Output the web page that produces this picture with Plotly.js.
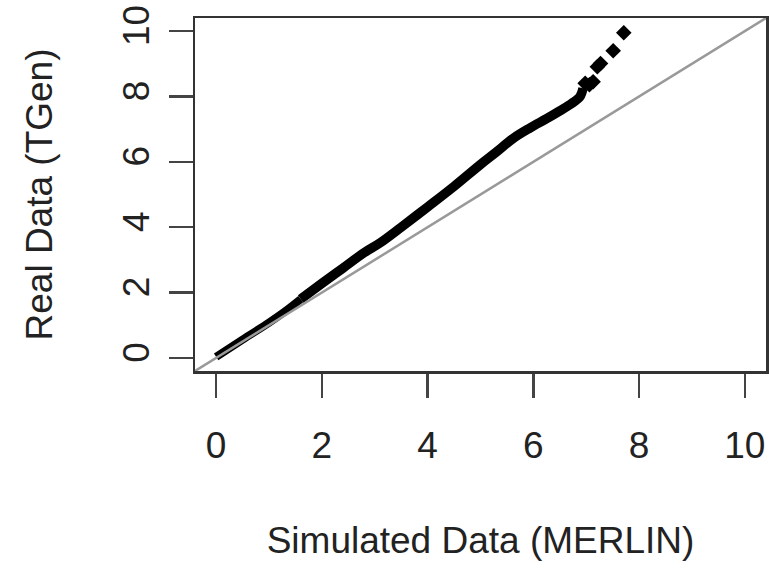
<!DOCTYPE html>
<html>
<head>
<meta charset="utf-8">
<script src="https://cdn.plot.ly/plotly-3.0.1.min.js"></script>
<style>
  html, body { margin: 0; padding: 0; background: #fff; }
  #chart { width: 769px; height: 570px; }
</style>
</head>
<body>
<div id="chart"></div>
<script>
// Dense part of the QQ curve (band of overlapping points)
const bandAX = [0.0, 0.5, 1.0, 1.3, 1.6];
const bandAY = [0.03, 0.56, 1.08, 1.42, 1.80];
const bandBX = [1.6, 2.0, 2.4, 2.8, 3.1, 3.5, 4.0, 4.5, 5.0, 5.3, 5.62, 5.94, 6.25, 6.5, 6.72, 6.88, 6.94];
const bandBY = [1.80, 2.28, 2.75, 3.22, 3.52, 4.0, 4.62, 5.25, 5.92, 6.3, 6.72, 7.04, 7.32, 7.56, 7.78, 7.99, 8.25];
// Sparse upper tail (individual diamonds)
const tailX = [6.98, 7.06, 7.13, 7.21, 7.27, 7.51, 7.71];
const tailY = [8.40, 8.36, 8.45, 8.91, 9.01, 9.40, 9.95];
// Reference line y = x
const refX = [-1, 11];
const refY = [-1, 11];
// Ticks
const tickVals = [0, 2, 4, 6, 8, 10];
const tickText = ["0", "2", "4", "6", "8", "10"];

const FONT = "Liberation Sans, Arial, Helvetica, sans-serif";

const traces = [
  { x: bandAX, y: bandAY, mode: "lines", line: { color: "#000", width: 8, shape: "spline" }, hoverinfo: "skip" },
  { x: bandBX, y: bandBY, mode: "lines", line: { color: "#000", width: 9.5, shape: "spline" }, hoverinfo: "skip" },
  { x: tailX, y: tailY, mode: "markers", marker: { symbol: "diamond", size: 12, color: "#000" }, hoverinfo: "skip" },
  { x: refX, y: refY, mode: "lines", line: { color: "#999", width: 2.5 }, hoverinfo: "skip" }
];

const axisCommon = {
  range: [-0.4, 10.4],
  showgrid: false,
  zeroline: false,
  showline: true,
  mirror: true,
  linecolor: "#333",
  linewidth: 2.5,
  ticks: "outside",
  ticklen: 24,
  tickwidth: 2.5,
  tickcolor: "#444",
  tickvals: tickVals,
  ticktext: tickText,
  tickfont: { family: FONT, size: 37, color: "#222" },
  fixedrange: true
};

const layout = {
  width: 769,
  height: 570,
  margin: { l: 195, r: 3, t: 18, b: 199 },
  paper_bgcolor: "#fff",
  plot_bgcolor: "#fff",
  showlegend: false,
  xaxis: Object.assign({}, axisCommon, {
    ticklabelstandoff: 16,
    title: { text: "Simulated Data (MERLIN)", font: { family: FONT, size: 37, color: "#222" }, standoff: 62 }
  }),
  yaxis: Object.assign({}, axisCommon, {
    tickangle: -90,
    ticklabelstandoff: 5,
    title: { text: "Real Data (TGen)", font: { family: FONT, size: 37, color: "#222" }, standoff: 52 }
  })
};

Plotly.newPlot("chart", traces, layout, { displayModeBar: false, staticPlot: true });
</script>
</body>
</html>
